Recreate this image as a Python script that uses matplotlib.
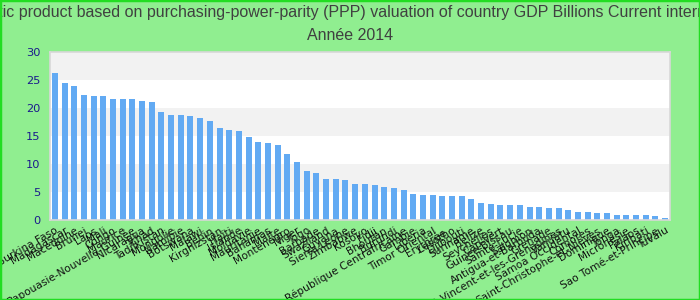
import matplotlib
matplotlib.use("Agg")
import matplotlib.pyplot as plt
from matplotlib.patches import Rectangle
from matplotlib import font_manager

countries = [
    "Burkina Faso", "Madagascar", "Macédoine", "Brunei", "Laos", "Mali", "Congo", "Maurice",
    "Papouasie-Nouvelle-Guinée", "Nicaragua", "Tchad", "Tadjikistan", "Mongolie", "Namibie",
    "Botswana", "Malawi", "Bénin", "Kirghizstan", "Haïti", "Islande", "Moldavie", "Mauritanie",
    "Bahamas", "Malte", "Monténégro", "Niger", "Togo", "Barbade", "Swaziland", "Guyana",
    "Sierra Leone", "Zimbabwe", "Kosovo", "Fidji", "Bhoutan", "Burundi",
    "République Centrafricaine", "Gambie", "Liberia", "Timor Oriental", "Érythrée", "Lesotho",
    "Djibouti", "Suriname", "Belize", "Seychelles", "Cap-Vert", "Guinée-Bissau",
    "Sainte-Lucie", "Salomon", "Antigua-et-Barbuda", "Grenade",
    "Saint-Vincent-et-les-Grenadines", "Vanuatu", "Samoa Occidental", "Comores",
    "Saint-Christophe-et-Niévès", "Dominique", "Tonga", "Micronésie", "Palaos", "Kiribati",
    "Sao Tomé-et-Principe", "Tuvalu",
]
values = [
    26.2, 24.4, 23.9, 22.3, 22.1, 22.1, 21.6, 21.6, 21.6, 21.2, 21.0, 19.3, 18.7, 18.7,
    18.5, 18.2, 17.6, 16.4, 16.0, 15.9, 14.8, 13.9, 13.7, 13.4, 11.8, 10.3, 8.7, 8.4,
    7.3, 7.3, 7.1, 6.4, 6.4, 6.2, 5.9, 5.7, 5.3, 4.6, 4.5, 4.5, 4.3, 4.3, 4.3, 3.8,
    3.0, 2.9, 2.7, 2.7, 2.7, 2.3, 2.3, 2.1, 2.1, 1.8, 1.4, 1.4, 1.2, 1.2, 0.9, 0.9,
    0.9, 0.9, 0.7, 0.4,
]
yticks = [0, 5, 10, 15, 20, 25, 30]
title1 = ("Gross domestic product based on purchasing-power-parity (PPP) valuation of "
          "country GDP Billions Current international dollar")
title2 = "Année 2014"

names = {f.name for f in font_manager.fontManager.ttflist}
title_font = "Liberation Sans Narrow" if "Liberation Sans Narrow" in names else "Liberation Sans"

W, H = 700, 300
fig = plt.figure(figsize=(W / 100, H / 100), dpi=100, facecolor="#90ee90")
ax = fig.add_axes([50 / W, 1 - 220 / H, 620 / W, (220 - 51.7) / H])
ax.set_facecolor("white")

# alternating bands
for i in range(len(yticks) - 1):
    if i % 2 == 1:
        ax.axhspan(yticks[i], yticks[i + 1], color="#f2f2f2", zorder=0, lw=0)

x = list(range(len(values)))
ax.bar(x, values, width=0.62, color="#62aaf3", zorder=2)
ax.set_xlim(-0.5, len(values) - 0.5)
ax.set_ylim(0, 30)
ax.set_yticks(yticks)
ax.set_yticklabels([str(t) for t in yticks], color="#1a1a8c", fontsize=8.2)
ax.tick_params(axis="y", length=0, pad=7)
ax.set_xticks(x)
ax.set_xticklabels(countries, rotation=30, ha="right", rotation_mode="anchor",
                   fontsize=7.6, color="#111111")
ax.tick_params(axis="x", length=0, pad=4)
for s in ax.spines.values():
    s.set_color("#d8d8d8")
    s.set_linewidth(1.2)

fig.text(0.5, 1 - 13 / H, title1, ha="center", va="center", fontsize=11.5,
         color="#404040", family=title_font)
fig.text(0.5, 1 - 36 / H, title2, ha="center", va="center", fontsize=11.5,
         color="#404040", family=title_font)

fig.patches.append(Rectangle((0, 0), 1, 1, transform=fig.transFigure, fill=False,
                             edgecolor="#22dd22", lw=2.5, zorder=10))

fig.savefig("out.png", dpi=100, facecolor=fig.get_facecolor())
